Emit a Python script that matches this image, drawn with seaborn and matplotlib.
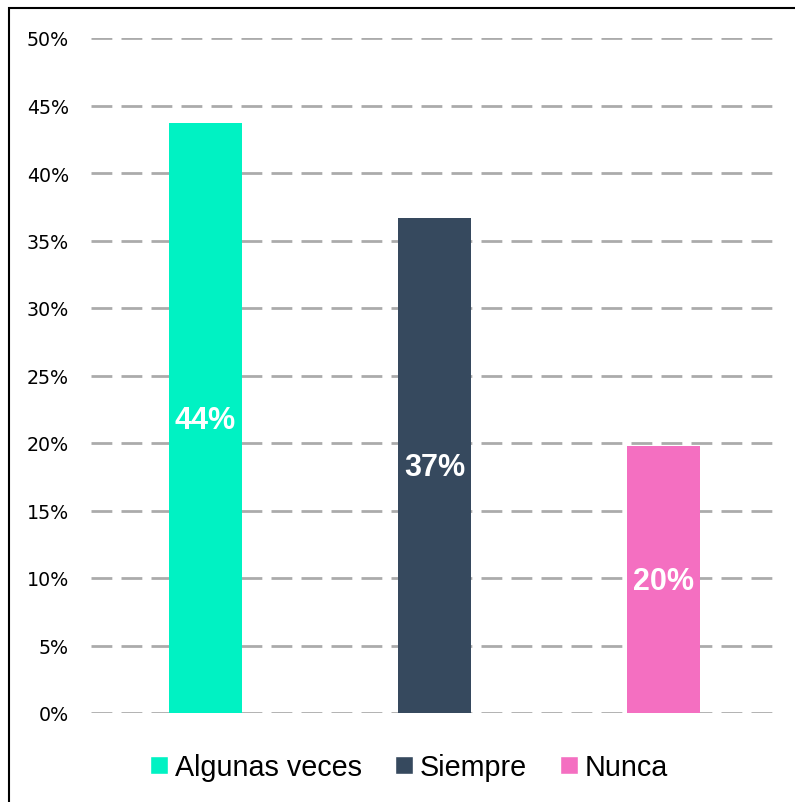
import pandas as pd
import seaborn as sns
import matplotlib.pyplot as plt
from matplotlib.patches import Rectangle, Patch

# Valores (porcentaje)
categorias = ['Algunas veces', 'Siempre', 'Nunca']
porcentajes = [43.7, 36.7, 19.8]
etiquetas = ['44%', '37%', '20%']
colores = ['#00F2C3', '#36495E', '#F46FC1']

df = pd.DataFrame({'categoria': categorias, 'valor': porcentajes})

sns.set_style('white')
plt.rcParams['text.color'] = 'black'
plt.rcParams['ytick.color'] = 'black'
fig = plt.figure(figsize=(7.95, 8.03), dpi=100)
ax = fig.add_axes([91 / 795, 89 / 803, 687 / 795, 675 / 803])

sns.barplot(data=df, x='categoria', y='valor', hue='categoria', palette=colores,
            width=0.32, dodge=False, legend=False, saturation=1, linewidth=0,
            ax=ax, zorder=3)

# Etiquetas en el centro de cada barra
for i, (v, t) in enumerate(zip(porcentajes, etiquetas)):
    ax.text(i, v / 2 - 0.15, t, ha='center', va='center', color='white',
            fontsize=22, fontweight='bold', family='Liberation Sans', zorder=4)

ax.set_xlim(-0.5, 2.5)
ax.set_ylim(0, 50)
ax.set_yticks(range(0, 51, 5))
ax.set_yticklabels([f'{t}%' for t in range(0, 51, 5)], fontsize=13.7, color='black')
ax.tick_params(axis='y', length=0, pad=16)
ax.set_xticks([])
ax.set_xlabel('')
ax.set_ylabel('')
for s in ax.spines.values():
    s.set_visible(False)
ax.yaxis.grid(True, color='#ABABAB', linewidth=2, linestyle=(0, (7.5, 3.3)), zorder=0)
ax.set_axisbelow(True)

# Leyenda
handles = [Patch(facecolor=c, label=l) for c, l in zip(colores, categorias)]
fig.legend(handles=handles, loc='center', bbox_to_anchor=(409 / 795, 1 - 768 / 803),
           ncol=3, frameon=False, prop={'family': 'Liberation Sans', 'size': 20.7},
           handlelength=0.62, handleheight=0.62, handletextpad=0.25, columnspacing=1.15)

# Marco del gráfico
fig.patches.append(Rectangle((9 / 795, -0.05), 1.2, 1 - 9 / 803 + 0.05,
                             transform=fig.transFigure, fill=False,
                             edgecolor='black', linewidth=1.5))

fig.savefig('out.png', dpi=100)
